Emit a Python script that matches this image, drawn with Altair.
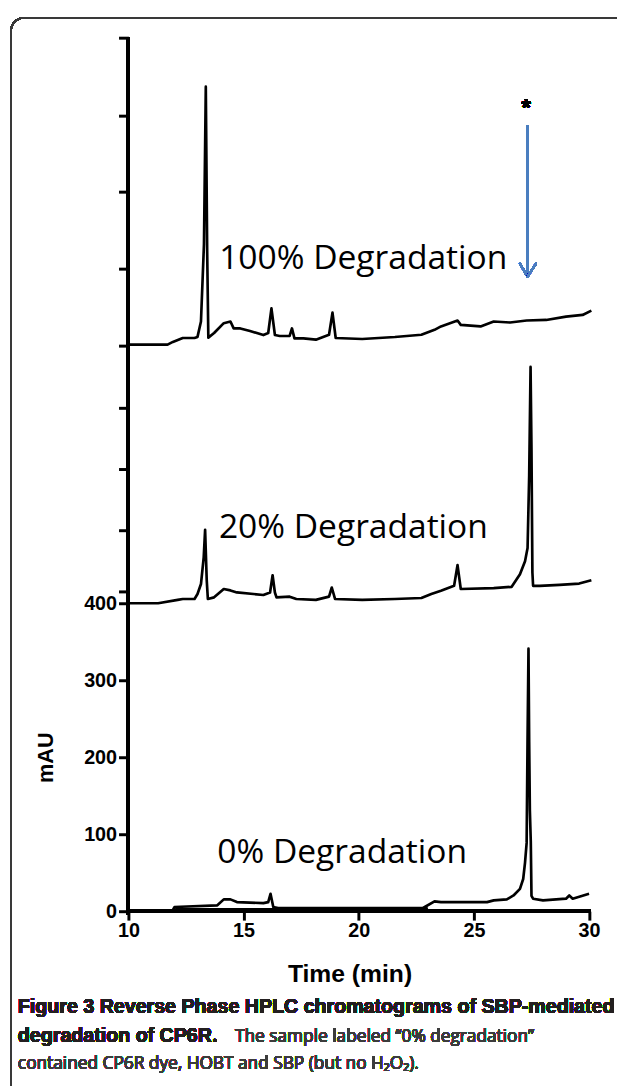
import altair as alt
import pandas as pd

# ---------------- data (retention time in min, absorbance in mAU above each trace's baseline) ----------
t100 = [10.0, 11.7, 11.93, 12.36, 12.87, 13.0, 13.15, 13.28, 13.36, 13.42, 13.47, 13.72, 14.14, 14.43,
        14.57, 14.86, 15.28, 15.86, 16.07, 16.21, 16.36, 16.57, 17.0, 17.1, 17.21, 17.6, 18.14, 18.71,
        18.86, 19.0, 20.15, 21.57, 22.72, 23.29, 23.57, 24.29, 24.43, 25.29, 25.86, 26.57, 27.29, 28.14,
        29.0, 29.72, 30.1]
v100 = [0, 0, 3.5, 8.6, 8.6, 10, 30, 130, 335, 120, 9, 15, 27.8, 30,
        21, 21, 17.6, 12.4, 15, 47.1, 12.4, 11.2, 11.2, 21, 8, 8, 6.4, 12.8,
        41.5, 8.6, 7.3, 9.9, 12.8, 19.2, 23.6, 31.3, 25.6, 23.6, 30, 28.7, 31.3, 32,
        36.4, 38.5, 44.1]

t20 = [10.0, 11.29, 12.14, 12.36, 12.87, 13.0, 13.15, 13.27, 13.33, 13.4, 13.45, 13.72, 14.14, 14.43,
       14.71, 15.86, 16.15, 16.26, 16.36, 16.43, 17.0, 17.29, 18.14, 18.71, 18.83, 18.97, 20.15, 21.57,
       22.72, 23.15, 23.57, 24.14, 24.29, 24.43, 25.86, 26.64, 27.0, 27.22, 27.33, 27.4, 27.46, 27.5,
       27.54, 27.57, 27.86, 28.72, 29.57, 30.1]
v20 = [0, 0, 4.4, 5.6, 5.6, 12, 25, 60, 95.4, 30, 5.6, 7.7, 18.5, 16.7,
       14.1, 10.8, 14, 36.4, 14, 7.7, 8.6, 5.6, 4.4, 8.6, 20.5, 5.6, 4.4, 5.6,
       6.9, 12, 16.3, 22.7, 49.6, 18.5, 19.7, 21.4, 37.7, 54.7, 71.8, 166, 307, 200,
       40, 22.7, 22.7, 24, 25.6, 30]

t0 = [10.0, 11.9, 12.0, 13.86, 14.14, 14.43, 14.71, 15.86, 16.07, 16.17, 16.29, 16.5, 22.79, 23.29,
      23.57, 25.57, 25.86, 26.43, 26.72, 27.0, 27.14, 27.22, 27.29, 27.33, 27.37, 27.4, 27.43, 27.47,
      27.5, 27.57, 28.0, 29.0, 29.14, 29.29, 30.0]
v0 = [0, 0, 5.5, 7.7, 15.4, 15.4, 11.9, 10.6, 11.9, 22.7, 5.5, 4.2, 4.2, 12.8,
      11.9, 11.9, 14.1, 15.4, 20.5, 29.1, 41.9, 63.2, 88.8, 225.6, 341, 220, 131, 90,
      20, 16.3, 14.1, 16.3, 20.5, 16.3, 22.7]

t0_low = [10.0, 12.0, 12.05, 22.8, 23.0]
v0_low = [0, 0, 2.5, 2.5, 4.2]

series_names = ["100%", "20%", "0%", "0% (lower trace)"]
series_offsets = [736, 400, 0, 0]

label_texts = ["100% Degradation", "20% Degradation", "0% Degradation"]
label_times = [13.94, 13.93, 13.86]
label_levels = [834.6, 484.6, 63.0]

x_ticks = [10, 15, 20, 25, 30]
y_ticks = [0, 100, 200, 300, 400, 415, 495, 574, 654, 735, 835, 934, 1033, 1135]
y_label_max = 400

arrow_time = 27.33
arrow_top = 1020.5
arrow_tip = 824
arrow_wing = 841
arrow_wing_left = 27.0
arrow_wing_right = 27.69
star_time = 27.27
star_level = 1033

caption_line1 = "Figure 3 Reverse Phase HPLC chromatograms of SBP-mediated"
caption_line2_bold = "degradation of CP6R."
caption_line2_reg = "The sample labeled \u201c0% degradation\u201d"
caption_line3 = "contained CP6R dye, HOBT and SBP (but no H\u2082O\u2082)."

# ---------------- tables ----------------
rows = []
for name, ts, vs, off in zip(series_names, [t100, t20, t0, t0_low], [v100, v20, v0, v0_low], series_offsets):
    for t, v in zip(ts, vs):
        rows.append({"series": name, "time": t, "mau": v + off})
traces = pd.DataFrame(rows)
labels = pd.DataFrame({"text": label_texts, "time": label_times, "mau": label_levels})

W, H = 617, 1078
xs = alt.Scale(domain=[4.772, 31.213], nice=False, zero=False)
ys = alt.Scale(domain=[-217.9, 1164.1], nice=False, zero=False)

TICKFONT = "Liberation Sans, Arial, sans-serif"

x_axis = alt.Axis(values=x_ticks, offset=-170, domain=False, grid=False, tickSize=9, tickWidth=3,
                  tickColor="black", labelFont=TICKFONT, labelFontSize=20, labelFontWeight="bold",
                  labelColor="black", labelPadding=1, title="Time (min)", titleFont=TICKFONT,
                  titleFontSize=25, titleFontWeight="bold", titleColor="black", titleX=346, titleY=63,
                  titleAlign="center", titleBaseline="middle", labelFlush=False, labelOverlap=False)
y_axis = alt.Axis(values=y_ticks, offset=-122, domain=False, grid=False, tickSize=10, tickWidth=3,
                  tickColor="black", labelFont=TICKFONT, labelFontSize=20, labelFontWeight="bold",
                  labelColor="black", labelPadding=2,
                  labelExpr=f"datum.value <= {y_label_max} ? datum.label : ''",
                  title="mAU", titleFont=TICKFONT, titleFontSize=22, titleFontWeight="bold",
                  titleColor="black", titleAngle=270, titleX=-84, titleY=752, titleAlign="center",
                  titleBaseline="middle", labelOverlap=False, labelFlush=False)

frame = alt.Chart(traces).mark_rect(fillOpacity=0, stroke="#3a3a3a", strokeWidth=1.6, cornerRadius=13).encode(
    x=alt.value(3), x2=alt.value(W + 40), y=alt.value(3), y2=alt.value(H + 40))

lines = alt.Chart(traces).mark_line(color="black", strokeWidth=2.7, strokeJoin="round").encode(
    x=alt.X("time:Q", scale=xs, axis=x_axis),
    y=alt.Y("mau:Q", scale=ys, axis=y_axis),
    detail="series:N",
)

y_domain = alt.Chart(traces).mark_rule(color="black", strokeWidth=3.2).encode(
    x=alt.datum(10), y=alt.datum(-4), y2=alt.datum(1135))
x_domain = alt.Chart(traces).mark_rule(color="black", strokeWidth=3.2).encode(
    x=alt.datum(9.95), x2=alt.datum(30.08), y=alt.datum(0))

text_labels = alt.Chart(labels).mark_text(align="left", baseline="alphabetic", font="Open Sans",
                                          fontSize=34, color="black").encode(
    x=alt.X("time:Q", scale=xs), y=alt.Y("mau:Q", scale=ys), text="text:N")

star = alt.Chart(traces).mark_text(text="*", font=TICKFONT, fontWeight="bold", fontSize=24,
                                   align="center", baseline="alphabetic", color="black").encode(
    x=alt.datum(star_time), y=alt.datum(star_level))

BLUE = "#4a7ebf"
shaft = alt.Chart(traces).mark_rule(color=BLUE, strokeWidth=2).encode(
    x=alt.datum(arrow_time), y=alt.datum(arrow_tip), y2=alt.datum(arrow_top))
wing_l = alt.Chart(traces).mark_rule(color=BLUE, strokeWidth=2, strokeCap="round").encode(
    x=alt.datum(arrow_wing_left), y=alt.datum(arrow_wing), x2=alt.datum(arrow_time), y2=alt.datum(arrow_tip))
wing_r = alt.Chart(traces).mark_rule(color=BLUE, strokeWidth=2, strokeCap="round").encode(
    x=alt.datum(arrow_wing_right), y=alt.datum(arrow_wing), x2=alt.datum(arrow_time), y2=alt.datum(arrow_tip))

CAPFONT = "Open Sans, sans-serif"
BOLDFONT = "Liberation Sans, Arial, sans-serif"
BOLDSIZE = 19.9
cap1 = alt.Chart(traces).mark_text(text=caption_line1, font=BOLDFONT, fontWeight="bold", fontSize=BOLDSIZE,
                                   align="left", baseline="middle", color="#231f20").encode(
    x=alt.value(10), y=alt.value(1005))
cap2a = alt.Chart(traces).mark_text(text=caption_line2_bold, font=BOLDFONT, fontWeight="bold", fontSize=BOLDSIZE,
                                    align="left", baseline="middle", color="#231f20").encode(
    x=alt.value(10), y=alt.value(1035))
cap2b = alt.Chart(traces).mark_text(text=caption_line2_reg, font=CAPFONT, fontSize=17.5,
                                    align="left", baseline="middle", color="#3c3c3c").encode(
    x=alt.value(230), y=alt.value(1035))
cap3 = alt.Chart(traces).mark_text(text=caption_line3, font=CAPFONT, fontSize=17.5,
                                   align="left", baseline="middle", color="#3c3c3c").encode(
    x=alt.value(10), y=alt.value(1063))

chart = alt.layer(
    frame, y_domain, x_domain, lines, text_labels, star, shaft, wing_l, wing_r, cap1, cap2a, cap2b, cap3
).properties(
    width=W, height=H, padding=0, autosize=alt.AutoSizeParams(type="none"), background="white"
).configure_view(stroke=None)

chart.save("out.html", embed_options={"renderer": "svg", "actions": False})
